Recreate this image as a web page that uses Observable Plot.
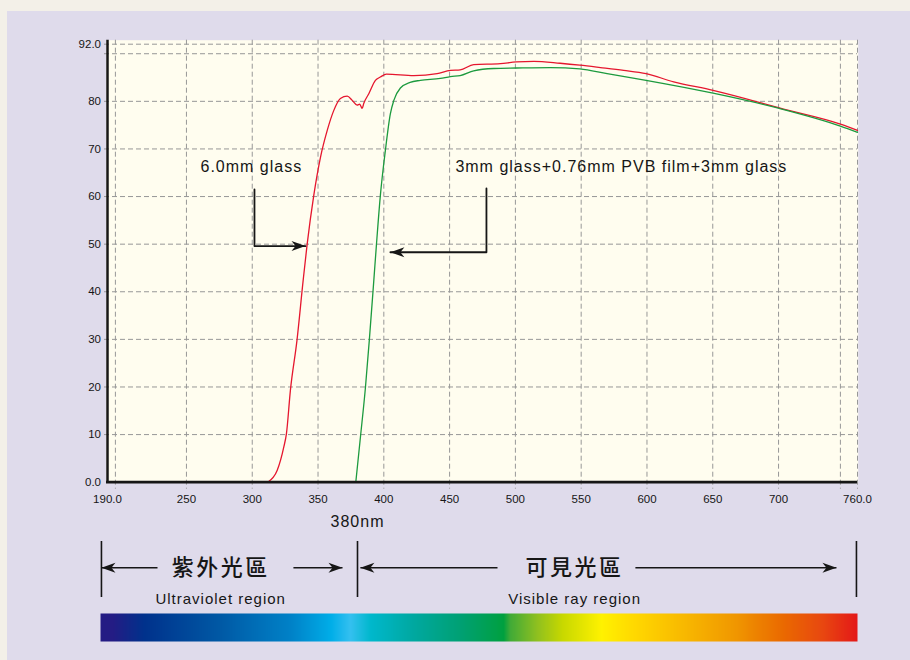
<!DOCTYPE html>
<html><head><meta charset="utf-8">
<script src="https://cdn.jsdelivr.net/npm/d3@7"></script>
<script src="https://cdn.jsdelivr.net/npm/@observablehq/plot@0.6"></script>
<style>
html,body{margin:0;padding:0;width:910px;height:660px;overflow:hidden;background:#f3f0e8;}
#panel{position:absolute;left:7px;top:11px;width:903px;height:649px;background:#dfdbeb;}
#chart{position:absolute;left:0;top:0;}
#bottom{position:absolute;left:0;top:530px;}
</style></head><body>
<div id="panel"></div><div id="chart"></div><div id="bottom"></div>
<script>
// ---- data (wavelength nm, transmittance %) ----
const redNm = [311.8, 319, 324, 326, 329, 334, 338.7, 341.7, 346.8, 351.9, 357, 362, 367, 372.2, 376, 379.7, 381.7, 383.5, 384.8, 388.6, 393.6, 397.4, 402, 422.8, 440.5, 450.6, 458, 468.3, 488.6, 500.8, 514, 534, 549, 564.6, 582.3, 599.3, 620.3, 650.2, 683.7, 700.6, 747, 760];
const redT  = [0, 2.5, 7.4, 10.2, 19.3, 29.8, 42.4, 49.9, 60.3, 68.3, 73.9, 78.1, 80.6, 81.1, 80.2, 79.2, 79.4, 78.5, 79.6, 81.6, 84.4, 85.1, 85.7, 85.4, 85.8, 86.5, 86.6, 87.7, 87.9, 88.3, 88.4, 88.0, 87.6, 87.1, 86.5, 85.8, 84.1, 82.3, 79.9, 78.6, 75.2, 73.9];
const greenNm = [378.7, 382.2, 386, 389, 392.4, 394.4, 397.4, 401.2, 405, 407.6, 412.6, 420, 427.8, 443, 450.6, 458, 468.3, 483.6, 500.8, 526.6, 549, 569.7, 599.3, 650.2, 700.6, 747, 760];
const greenT  = [0, 9.4, 19.8, 29.9, 42.4, 49.9, 60.3, 69.7, 77.4, 80.2, 82.8, 84.0, 84.4, 84.8, 85.2, 85.4, 86.4, 86.9, 87.0, 87.1, 86.8, 85.8, 84.4, 81.7, 78.5, 74.8, 73.5];

// axes
const xTicks = [190, 250, 300, 350, 400, 450, 500, 550, 600, 650, 700, 760];
const xGrid  = [196, 250, 300, 350, 400, 450, 500, 550, 600, 650, 700, 747, 760];
const yTicks = [0, 10, 20, 30, 40, 50, 60, 70, 80, 92];
const yGrid  = [10, 20, 30, 40, 50, 60, 70, 80, 90, 92];

// annotations
const annText   = ["6.0mm glass", "3mm glass+0.76mm PVB film+3mm glass"];
const annTextNm = [260.7, 454.4];
const annTextT  = [66.2, 66.2];
const annStemNm = [301.7, 478];
const annStemT  = [61.5, 61.7];
const annTipNm  = [340.5, 405];
const annTipT   = [49.6, 48.3];
const annDir    = ["right", "left"];
const markerNm  = [380];
const markerText = ["380nm"];

// regions below the chart
const regionZh = ["紫外光區", "可見光區"];
const regionEn = ["Ultraviolet region", "Visible ray region"];
const regionLabelNm = [276, 545];
const regionBounds = [185.4, 380, 759.2];
const regionArrowFrom = [228, 331.3, 486.4, 591.2];
const regionArrowTip  = [185.4, 368.6, 382.2, 744];
const regionArrowDir  = ["left", "right", "left", "right"];

// spectrum bar colour stops
const barStopNm = [184.7, 194, 218, 274, 330, 360, 374.6, 390, 423, 460.5, 491, 496, 516.7, 535.7, 565.4, 591, 628.5, 666, 703.4, 733.3, 760];
const barStopColor = ["#241c84", "#241c84", "#00328c", "#0058a4", "#0082c8", "#00aee8", "#35c0f0", "#00b8cc", "#00a8a0", "#00a070", "#00a040", "#40aa38", "#90c020", "#c8d800", "#fff200", "#ffd800", "#f8b800", "#f09800", "#ea6a00", "#e84810", "#e41818"];

// ---- build ----
const red = redNm.map((x, i) => ({nm: x, t: redT[i]}));
const green = greenNm.map((x, i) => ({nm: x, t: greenT[i]}));
const annPaths = annText.flatMap((_, i) => [
  {id: i, nm: annStemNm[i], t: annStemT[i]},
  {id: i, nm: annStemNm[i], t: annTipT[i]},
  {id: i, nm: annTipNm[i], t: annTipT[i]}
]);
const annTips = annText.map((_, i) => ({nm: annTipNm[i], t: annTipT[i], dir: annDir[i]}));
const annLabels = annText.map((s, i) => ({nm: annTextNm[i], t: annTextT[i], text: s}));

const stealth = {draw(ctx) { ctx.moveTo(0, 0); ctx.lineTo(-14, -5); ctx.lineTo(-10, 0); ctx.lineTo(-14, 5); ctx.closePath(); }};
const ink = "#161616";
const font = "Liberation Sans, Arial, Helvetica, sans-serif";

const chart = Plot.plot({
  width: 910, height: 540,
  marginLeft: 107, marginRight: 53, marginTop: 43.7, marginBottom: 58.3,
  style: {background: "transparent", fontFamily: font, color: ink},
  x: {domain: [190, 760]},
  y: {domain: [0, 92]},
  marks: [
    Plot.frame({fill: "#fffdef", stroke: "none", insetTop: -4, insetLeft: -1.3, insetRight: -0.7}),
    Plot.ruleY(yGrid, {stroke: "#979797", strokeDasharray: "5,3", strokeWidth: 1, insetLeft: -3}),
    Plot.ruleX(xGrid, {stroke: "#979797", strokeDasharray: "5,3", strokeWidth: 1, insetTop: -4, insetBottom: -7}),
    Plot.line(red, {x: "nm", y: "t", stroke: "#e5162e", strokeWidth: 1.3, curve: "monotone-x"}),
    Plot.line(green, {x: "nm", y: "t", stroke: "#1c9a3e", strokeWidth: 1.3, curve: "monotone-x"}),
    Plot.ruleX([190], {stroke: ink, strokeWidth: 2.5, insetTop: -4}),
    Plot.ruleY([0], {stroke: ink, strokeWidth: 2.8, insetLeft: -1}),
    Plot.line(annPaths, {x: "nm", y: "t", z: "id", stroke: ink, strokeWidth: 1.8, curve: "linear"}),
    Plot.dot(annTips, {x: "nm", y: "t", symbol: stealth, rotate: d => d.dir === "left" ? 180 : 0, fill: ink, stroke: "none"}),
    Plot.text(annLabels, {x: "nm", y: "t", text: "text", textAnchor: "start", fontSize: 16, fill: ink}),
    Plot.text(markerNm, {x: d => d, text: (d, i) => markerText[i], frameAnchor: "bottom", lineAnchor: "middle", dy: 40, fontSize: 16, fill: ink}),
    Plot.axisX({ticks: xTicks, tickSize: 0, tickPadding: 12.5, fontSize: 11.5, label: null,
      tickFormat: d => (d === 190 || d === 760) ? d.toFixed(1) : String(d)}),
    Plot.axisY({ticks: yTicks, tickSize: 0, tickPadding: 6.5, fontSize: 11.5, label: null,
      tickFormat: d => (d === 0 || d === 92) ? d.toFixed(1) : String(d)})
  ]
});
document.getElementById("chart").append(chart);

const arrows = regionArrowFrom.map((f, i) => ({from: f, tip: regionArrowTip[i], dir: regionArrowDir[i]}));
const regions = regionZh.map((z, i) => ({zh: z, en: regionEn[i], nm: regionLabelNm[i]}));

const bottom = Plot.plot({
  width: 910, height: 130,
  marginLeft: 107, marginRight: 53, marginTop: 0, marginBottom: 0,
  style: {background: "transparent", fontFamily: font, color: ink},
  x: {domain: [190, 760], axis: null},
  y: {domain: [0, 130], range: [0, 130], axis: null},
  color: {type: "linear", domain: barStopNm, range: barStopColor, interpolate: "rgb"},
  marks: [
    Plot.raster({x1: barStopNm[0], x2: barStopNm[barStopNm.length - 1], y1: 83, y2: 111, width: 760, height: 1, fill: (x, y) => x, imageRendering: "auto"}),
    Plot.ruleX(regionBounds, {y1: 11, y2: 67, stroke: ink, strokeWidth: 1.6}),
    Plot.link(arrows, {x1: "from", x2: "tip", y1: 37.3, y2: 37.3, stroke: ink, strokeWidth: 1.6}),
    Plot.dot(arrows, {x: "tip", y: 37.3, symbol: stealth, rotate: d => d.dir === "left" ? 180 : 0, fill: ink, stroke: "none"}),
    Plot.text(regions, {x: "nm", y: 37.3, text: "zh", fontSize: 22, fontWeight: 500, fontFamily: "Noto Sans CJK TC, Noto Sans CJK SC, sans-serif", fill: ink}),
    Plot.text(regions, {x: "nm", y: 69, text: "en", fontSize: 15, fill: ink})
  ]
});
document.getElementById("bottom").append(bottom);

for (const svg of [chart, bottom]) {
  d3.select(svg).selectAll('g[aria-label="text"]').each(function () {
    const fs = +this.getAttribute("font-size");
    this.setAttribute("letter-spacing", fs >= 20 ? "2.5" : fs >= 14 ? "1" : "0");
  });
}
</script></body></html>
